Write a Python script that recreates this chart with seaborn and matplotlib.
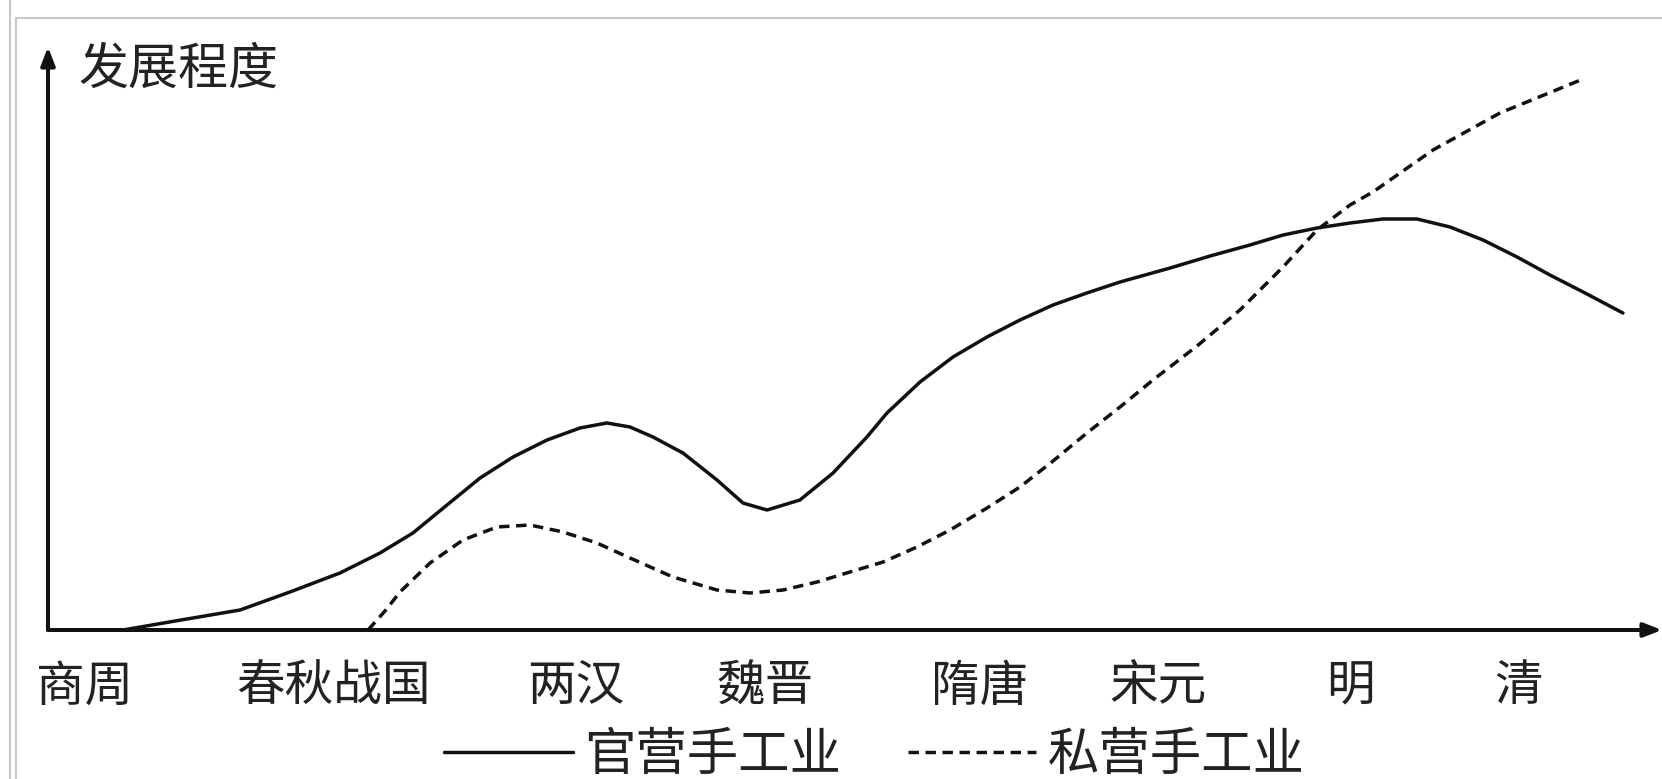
import matplotlib
matplotlib.use("Agg")
import matplotlib.pyplot as plt
from matplotlib.lines import Line2D
import seaborn as sns
import pandas as pd

# ---- data (x = time scale 0-100, y = 发展程度 0-100) ----
categories = ["商周", "春秋战国", "两汉", "魏晋", "隋唐", "宋元", "明", "清"]
category_pos = [2.3, 17.7, 32.7, 44.4, 57.7, 68.8, 80.7, 91.1]

official_x = [4.65, 7.87, 11.90, 14.99, 18.09, 20.57, 22.61, 24.72, 26.77, 28.81,
              30.92, 32.96, 34.63, 36.06, 37.48, 39.34, 41.45, 43.06, 44.55, 46.59,
              48.64, 50.74, 51.98, 54.03, 56.07, 58.18, 60.22, 62.27, 64.37, 66.42,
              69.52, 72.00, 74.47, 76.52, 78.62, 80.67, 82.71, 84.82, 86.86, 88.91,
              91.02, 93.06, 95.23, 97.58]
official_y = [0.00, 1.54, 3.43, 6.52, 9.78, 13.21, 16.64, 21.44, 26.07, 29.67,
              32.59, 34.65, 35.51, 34.82, 33.11, 30.36, 25.73, 21.78, 20.58, 22.30,
              26.93, 33.11, 37.22, 42.54, 46.83, 50.26, 53.17, 55.75, 57.81, 59.69,
              62.09, 64.15, 66.04, 67.75, 68.95, 69.81, 70.50, 70.50, 69.13, 66.90,
              63.98, 60.89, 57.81, 54.37]

private_x = [19.83, 20.88, 21.81, 23.67, 25.71, 27.82, 29.86, 31.91, 34.01, 36.06,
             38.72, 41.45, 43.49, 45.54, 47.65, 49.69, 51.74, 53.84, 55.89, 58.18,
             60.22, 62.27, 64.37, 66.42, 68.46, 71.19, 73.85, 76.52, 78.62, 80.67,
             82.09, 85.81, 89.96, 95.11]
private_y = [0.00, 3.26, 6.52, 11.49, 15.44, 17.67, 18.01, 16.81, 14.92, 12.35,
             9.09, 6.86, 6.35, 6.86, 8.23, 9.95, 11.66, 14.24, 17.15, 20.93,
             24.53, 28.99, 33.79, 38.25, 42.88, 48.71, 54.89, 62.27, 68.61, 72.90,
             75.13, 82.33, 88.68, 94.51]

series_names = ["官营手工业", "私营手工业"]
y_label = "发展程度"

# ---- styling ----
sns.set_theme(style="white")
plt.rcParams["font.family"] = ["Noto Sans CJK SC", "DejaVu Sans"]

W, H = 1662, 779
fig = plt.figure(figsize=(W / 100, H / 100), dpi=100)
fig.patch.set_facecolor("white")

# outer gray frame lines (figure coordinates)
frame_col = "#c8c8c8"
fig.add_artist(Line2D([10 / W, 10 / W], [0, 1], color=frame_col, lw=1.5))
fig.add_artist(Line2D([16 / W, 16 / W], [0, 1 - 18 / H], color=frame_col, lw=1.5))
fig.add_artist(Line2D([16 / W, 1], [1 - 18 / H, 1 - 18 / H], color=frame_col, lw=1.5))

x0, y0 = 48, 630      # origin pixel
x1, y1 = 1662, 47     # arrow tips
ax = fig.add_axes([x0 / W, (H - y0) / H, (x1 - x0) / W, (y0 - y1) / H])
ax.set_xlim(0, 100)
ax.set_ylim(0, 100)
ax.set_facecolor("none")
for s in ax.spines.values():
    s.set_visible(False)

line_col = "#111111"
df_off = pd.DataFrame({"x": official_x, "y": official_y})
df_pri = pd.DataFrame({"x": private_x, "y": private_y})
sns.lineplot(data=df_off, x="x", y="y", ax=ax, color=line_col, lw=2.5,
             sort=False, estimator=None, label=series_names[0], legend=False)
sns.lineplot(data=df_pri, x="x", y="y", ax=ax, color=line_col, lw=2.5,
             sort=False, estimator=None, label=series_names[1], legend=False)
ax.lines[0].set_solid_joinstyle("round")
ax.lines[1].set_dashes((3.0, 1.9))

# axes arrows
arrow_kw = dict(arrowstyle="-|>,head_length=0.9,head_width=0.35", color="#111111",
                lw=2.9, shrinkA=0, shrinkB=0)
ax.annotate("", xy=(100, 0), xytext=(0, 0), arrowprops=arrow_kw, annotation_clip=False)
ax.annotate("", xy=(0, 100), xytext=(0, 0), arrowprops=arrow_kw, annotation_clip=False)

# ticks / labels
ax.set_xticks(category_pos)
ax.set_xticklabels(categories, fontsize=35, color="#222222")
ax.set_yticks([])
ax.tick_params(axis="x", length=0, pad=23)
ax.set_xlabel("")
ax.set_ylabel("")

ax.text(79 / W, 1 - 70 / H, y_label, transform=fig.transFigure, fontsize=36,
        color="#222222", ha="left", va="center")

handles = [ax.lines[0], ax.lines[1]]
fig.legend(handles, series_names, loc="center", bbox_to_anchor=(0.526, 24 / H),
           ncol=2, frameon=False, fontsize=37, handlelength=2.5, handletextpad=0.22,
           columnspacing=1.3, labelcolor="#222222", borderaxespad=0)

fig.savefig("out.png", dpi=100, facecolor="white")
